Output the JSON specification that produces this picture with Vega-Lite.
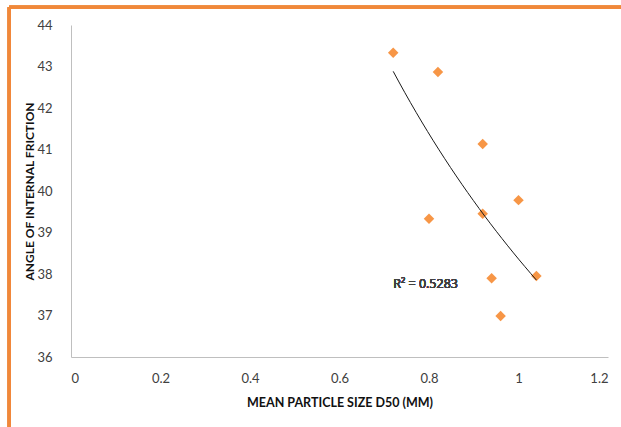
{
  "$schema": "https://vega.github.io/schema/vega-lite/v6.json",
  "width": 537,
  "height": 332,
  "autosize": "none",
  "padding": {"left": 71, "top": 25, "right": 13, "bottom": 70},
  "background": "white",
  "config": {
    "view": {"stroke": null},
    "font": "Lato",
    "axis": {"grid": false, "ticks": false, "domainColor": "#BFBFBF", "domainWidth": 1, "labelColor": "#404040", "labelFontSize": 13, "labelFont": "Lato", "titleFont": "Lato", "titleColor": "#111111", "titleFontWeight": "bold"}
  },
  "data": {
    "values": [
      {"d50": 0.72, "angle": 43.33},
      {"d50": 0.82, "angle": 42.87},
      {"d50": 0.92, "angle": 41.13},
      {"d50": 1.0, "angle": 39.78},
      {"d50": 0.92, "angle": 39.45},
      {"d50": 0.80, "angle": 39.33},
      {"d50": 0.94, "angle": 37.90},
      {"d50": 1.04, "angle": 37.95},
      {"d50": 0.96, "angle": 36.99}
    ]
  },
  "layer": [
    {
      "mark": {"type": "rule", "color": "#F0883A", "strokeWidth": 3, "clip": false},
      "encoding": {
        "x": {"datum": -0.138, "type": "quantitative", "scale": {"domain": [0, 1.2]}},
        "x2": {"datum": 1.235},
        "y": {"datum": 44.43, "type": "quantitative", "scale": {"domain": [36, 44]}}
      }
    },
    {
      "mark": {"type": "rule", "color": "#F0883A", "strokeWidth": 3, "clip": false},
      "encoding": {
        "x": {"datum": -0.138, "type": "quantitative"},
        "y": {"datum": 44.43, "type": "quantitative"},
        "y2": {"datum": 34.3}
      }
    },
    {
      "mark": {"type": "point", "shape": "diamond", "filled": true, "color": "#F79646", "size": 110, "opacity": 1},
      "encoding": {
        "x": {"field": "d50", "type": "quantitative", "title": "MEAN PARTICLE SIZE D50 (MM)",
              "scale": {"domain": [0, 1.2], "nice": false, "zero": false},
              "axis": {"values": [0, 0.2, 0.4, 0.6, 0.8, 1, 1.2], "format": "~g", "labelPadding": 15, "titleFontSize": 12.5, "titlePadding": 11}},
        "y": {"field": "angle", "type": "quantitative", "title": "ANGLE OF INTERNAL FRICTION",
              "scale": {"domain": [36, 44], "nice": false, "zero": false},
              "axis": {"values": [36, 37, 38, 39, 40, 41, 42, 43, 44], "labelPadding": 19, "titleFontSize": 12, "titlePadding": 0}}
      }
    },
    {
      "transform": [{"regression": "angle", "on": "d50", "method": "pow"}],
      "mark": {"type": "line", "color": "#1a1a1a", "strokeWidth": 1},
      "encoding": {
        "x": {"field": "d50", "type": "quantitative"},
        "y": {"field": "angle", "type": "quantitative"}
      }
    },
    {
      "mark": {"type": "text", "text": "R² = 0.5283", "align": "left", "baseline": "middle", "fontSize": 12.5, "fontWeight": "normal", "color": "#404040", "font": "Open Sans"},
      "encoding": {
        "x": {"datum": 0.72, "type": "quantitative"},
        "y": {"datum": 37.76, "type": "quantitative"}
      }
    }
  ]
}
